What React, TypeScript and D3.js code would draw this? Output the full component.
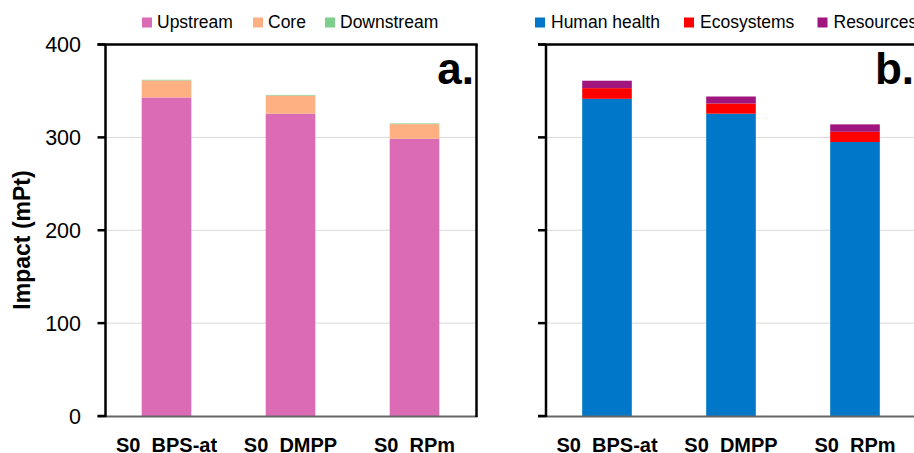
import React from "react";
import * as d3 from "d3";

const categories = ["S0_BPS-at", "S0_DMPP", "S0_RPm"];
const upstream = [343, 325.5, 298.5];
const core = [18.3, 19.5, 15.8];
const downstream = [0.7, 0.7, 0.7];
const humanHealth = [341.5, 325.5, 295];
const ecosystems = [11.5, 11, 11];
const resources = [8, 7.5, 8];
const yTicks = [0, 100, 200, 300, 400];

const seriesA = [
  { name: "Upstream", values: upstream, color: "#DC6BB6" },
  { name: "Core", values: core, color: "#FFB083" },
  { name: "Downstream", values: downstream, color: "#7CCF8C" },
];
const seriesB = [
  { name: "Human health", values: humanHealth, color: "#0077C8" },
  { name: "Ecosystems", values: ecosystems, color: "#FF0000" },
  { name: "Resources", values: resources, color: "#A0157E" },
];

const FONT = "'Liberation Sans', Arial, sans-serif";
const W = 914;
const H = 453;

const y = d3.scaleLinear().domain([0, 400]).range([416, 44.5]);

type Series = { name: string; values: number[]; color: string };

function Panel({
  series,
  x0,
  x1,
  showLabels,
  letter,
  letterX,
  legendX,
  legendGap,
}: {
  series: Series[];
  x0: number;
  x1: number;
  showLabels: boolean;
  letter: string;
  letterX: number;
  legendX: number[];
  legendGap: number;
}) {
  const x = d3
    .scaleBand<string>()
    .domain(categories)
    .range([x0 - 1, x0 - 1 + 372])
    .paddingInner(0.6)
    .paddingOuter(0.3);
  const rows = categories.map((c, i) => {
    const r: any = { cat: c };
    series.forEach((s) => (r[s.name] = s.values[i]));
    return r;
  });
  const stacked = d3.stack<any>().keys(series.map((s) => s.name))(rows);
  const tickX0 = x0 - 8;
  return (
    <g>
      {yTicks
        .filter((t) => t > 0 && t < 400)
        .map((t) => (
          <line
            key={t}
            x1={x0}
            x2={x1}
            y1={y(t)}
            y2={y(t)}
            stroke="#d9d9d9"
            strokeWidth={1}
          />
        ))}
      {stacked.map((layer, li) => (
        <g key={layer.key}>
          {layer.map((d, i) => (
            <rect
              key={i}
              x={x(categories[i])!}
              width={x.bandwidth()}
              y={y(d[1])}
              height={y(d[0]) - y(d[1])}
              fill={series[li].color}
            />
          ))}
        </g>
      ))}
      <line x1={tickX0} x2={x1 + 1} y1={416.5} y2={416.5} stroke="#666" strokeWidth={2} />
      <line x1={tickX0} x2={x1 + 1.2} y1={y(400)} y2={y(400)} stroke="#000" strokeWidth={2.5} />
      <line x1={x0} x2={x0} y1={y(400)} y2={417} stroke="#000" strokeWidth={2.5} />
      <line x1={x1} x2={x1} y1={y(400)} y2={417} stroke="#000" strokeWidth={2.5} />
      {yTicks.map((t) => (
        <line key={t} x1={tickX0} x2={x0} y1={y(t)} y2={y(t)} stroke="#000" strokeWidth={2.5} />
      ))}
      {showLabels &&
        yTicks.map((t) => (
          <text
            key={t}
            x={81}
            y={y(t)}
            dy="0.36em"
            textAnchor="end"
            fontFamily={FONT}
            fontSize={21.5}
            fill="#000"
          >
            {t}
          </text>
        ))}
      {categories.map((c) => (
        <text
          key={c}
          x={x(c)! + x.bandwidth() / 2}
          y={452}
          textAnchor="middle"
          fontFamily={FONT}
          fontWeight="bold"
          fontSize={20}
          fill="#000"
        >
          {c}
        </text>
      ))}
      <text
        x={letterX}
        y={83.5}
        textAnchor="end"
        fontFamily={FONT}
        fontWeight="bold"
        fontSize={44}
        fill="#000"
      >
        {letter}
      </text>
      {series.map((s, i) => (
        <g key={s.name}>
          <rect x={legendX[i]} y={17.5} width={10} height={10} fill={s.color} />
          <text
            x={legendX[i] + legendGap}
            y={28}
            fontFamily={FONT}
            fontSize={17.5}
            fill="#000"
          >
            {s.name}
          </text>
        </g>
      ))}
    </g>
  );
}

export default function App() {
  return (
    <svg
      width={W}
      height={H}
      viewBox={`0 0 ${W} ${H}`}
      style={{ position: "absolute", left: 0, top: 0, background: "#fff" }}
    >
      <rect width={W} height={H} fill="#fff" />
      <Panel
        series={seriesA}
        x0={105.5}
        x1={476.5}
        showLabels={true}
        letter="a."
        letterX={474}
        legendX={[142, 253, 325]}
        legendGap={15}
      />
      <Panel
        series={seriesB}
        x0={546}
        x1={920}
        showLabels={false}
        letter="b."
        letterX={914}
        legendX={[535, 684, 817.5]}
        legendGap={16}
      />
      <text
        transform="translate(30,240) rotate(-90)"
        textAnchor="middle"
        fontFamily={FONT}
        fontWeight="bold"
        fontSize={23}
        fill="#000"
      >
        Impact (mPt)
      </text>
    </svg>
  );
}
